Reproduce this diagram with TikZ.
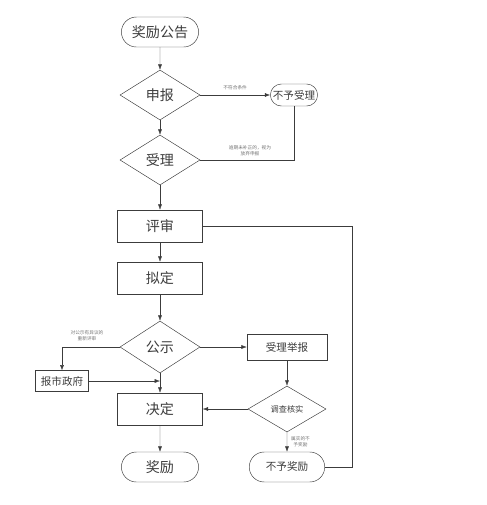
\documentclass[tikz,border=0pt]{standalone}
\usepackage{fontspec}
\newfontfamily\cjk{Noto Sans CJK SC}
\usetikzlibrary{arrows.meta,shapes.geometric,shapes.misc,positioning}
\definecolor{ink}{RGB}{60,60,60}

\begin{document}
\begin{tikzpicture}[x=0.3mm,y=-0.3mm,>={Latex[length=1.6mm,width=1.2mm]},
  every node/.style={text=ink},
  term/.style={draw=ink,rounded rectangle,minimum width=25.5mm,minimum height=9mm,font=\cjk\large},
  proc/.style={draw=ink,rectangle,minimum width=25.5mm,minimum height=9.6mm,font=\cjk\large},
  deci/.style={draw=ink,diamond,minimum width=24mm,minimum height=15mm,inner sep=0pt,font=\cjk\large},
  note/.style={font=\cjk\fontsize{4}{5}\selectfont,text=black!55,align=center}]
\useasboundingbox (0,0) rectangle (487,505);
\node[term] (ann) at (160,32) {奖励公告};
\node[deci] (sb) at (160,95) {申报};
\node[term,minimum width=16.5mm,minimum height=6.6mm,font=\cjk\fontsize{9}{10}\selectfont] (bsl) at (294,95) {不予受理};
\node[deci] (sl) at (160,160) {受理};
\node[proc] (ps) at (160,226) {评审};
\node[proc] (nd) at (160,278) {拟定};
\node[deci,minimum height=15.6mm] (gs) at (160,347) {公示};
\node[proc,minimum width=24mm,minimum height=7.8mm,font=\cjk\fontsize{9}{10}\selectfont] (jb) at (287,347) {受理举报};
\node[proc,minimum width=16mm,minimum height=6.2mm,font=\cjk\fontsize{9}{10}\selectfont] (sz) at (62,381) {报市政府};
\node[proc] (jd) at (160,409) {决定};
\node[deci,minimum width=23.4mm,minimum height=13.8mm,font=\cjk\fontsize{7}{8}\selectfont] (hs) at (287,409) {调查核实};
\node[term] (jl) at (160,467) {奖励};
\node[term,minimum width=25mm,font=\cjk\fontsize{9}{10}\selectfont] (bjl) at (287,467) {不予奖励};
\coordinate (rt) at (352,226);

\begin{scope}[draw=ink,thin]
\draw[->] (ann) -- (sb);
\draw[->] (sb) -- node[note,above=1pt] {不符合条件} (bsl);
\draw[->] (sb) -- (sl);
\draw (sl.east) -| (bsl.south);
\node[note] (sln) at (250,151) {逾期未补正的，视为\\放弃申报};
\draw[->] (sl) -- (ps);
\draw[->] (ps) -- (nd);
\draw[->] (nd) -- (gs);
\draw[->] (gs) -- (jb);
\draw[->] (gs.west) -| (sz.north);
\node[note] (gsn) at (87,336) {对公示有异议的\\重新评审};
\draw[->] (sz.east) -- (sz.east -| gs.south);
\draw[->] (gs) -- (jd);
\draw[->] (jb) -- (hs);
\draw[->] (hs) -- (jd);
\draw[->] (hs) -- node[note,right] {属实的不\\予奖励} (bjl);
\draw[->] (jd) -- (jl);
\draw (ps.east) -- (rt) |- (bjl.east);
\end{scope}
\end{tikzpicture}
\end{document}
